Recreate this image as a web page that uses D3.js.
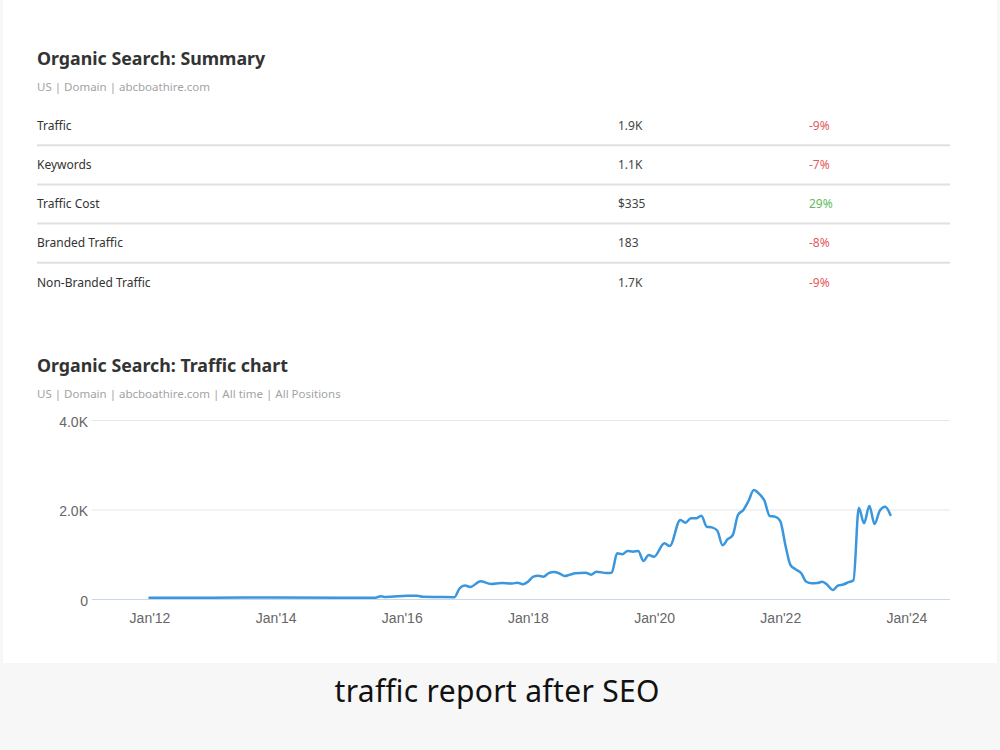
<!DOCTYPE html>
<html>
<head>
<meta charset="utf-8">
<script src="https://cdn.jsdelivr.net/npm/d3@7"></script>
<style>
  html, body { margin: 0; padding: 0; background: #f7f7f7; }
  svg { display: block; }
</style>
</head>
<body>
<div id="chart"></div>
<script>
// summary table
const metricNames   = ['Traffic', 'Keywords', 'Traffic Cost', 'Branded Traffic', 'Non-Branded Traffic'];
const metricValues  = ['1.9K', '1.1K', '$335', '183', '1.7K'];
const metricChanges = ['-9%', '-7%', '29%', '-8%', '-9%'];

// traffic series (month, visits)
const trafficMonths = [
  '2012-01','2013-01','2014-01','2015-01','2015-08','2015-09','2015-10','2015-11',
  '2016-02','2016-04','2016-05','2016-08','2016-11','2016-12',
  '2017-01','2017-02','2017-04','2017-06','2017-08','2017-10','2017-11','2017-12',
  '2018-01','2018-02','2018-03','2018-04','2018-05','2018-06','2018-07','2018-08','2018-09','2018-10','2018-12',
  '2019-01','2019-02','2019-04','2019-05','2019-06','2019-07','2019-08','2019-09','2019-10','2019-11','2019-12',
  '2020-01','2020-03','2020-04','2020-06','2020-07','2020-08','2020-09','2020-10','2020-11','2020-12',
  '2021-01','2021-02','2021-03','2021-04','2021-05','2021-06','2021-07','2021-08','2021-09','2021-10','2021-11','2021-12',
  '2022-01','2022-02','2022-03','2022-04','2022-05','2022-06','2022-07','2022-08','2022-09','2022-10','2022-11','2022-12',
  '2023-01','2023-02','2023-03','2023-04','2023-05','2023-06','2023-07','2023-08','2023-09','2023-10'
];
const trafficValues = [
  30, 30, 35, 30, 30, 60, 45, 50,
  75, 75, 50, 45, 40, 240,
  300, 270, 395, 335, 357, 345, 365, 328,
  387, 500, 520, 500, 580, 603, 573, 514, 544, 573, 588,
  544, 610, 580, 588, 1020, 1000, 1073, 1057, 1073, 850, 983,
  945, 1245, 1185, 1766, 1706, 1803, 1803, 1862, 1616, 1600,
  1530, 1200, 1330, 1430, 1877, 1990, 2190, 2436, 2350, 2200, 1855, 1840,
  1740, 1180, 760, 660, 580, 385, 350, 355, 385, 315, 200, 300,
  325, 375, 420, 2041, 1692, 2079, 1676, 1980, 2063, 1877
];

const yTicks = [0, 2000, 4000];
const yTickLabels = ['0', '2.0K', '4.0K'];
const xTickYears = [2012, 2014, 2016, 2018, 2020, 2022, 2024];

const W = 1000, H = 750;
const headFont = '"Noto Sans", "Open Sans", sans-serif';
const axisFont = '"Liberation Sans", Arial, sans-serif';

const svg = d3.select('#chart').append('svg').attr('width', W).attr('height', H);

// white card
svg.append('rect').attr('x', 3).attr('y', 0).attr('width', 994).attr('height', 663).attr('fill', '#fff');

// caption
svg.append('text').attr('x', 497).attr('y', 702).attr('text-anchor', 'middle')
  .style('font-family', '"Noto Sans", sans-serif')
  .style('font-size', '30px').attr('fill', '#111').attr('textLength', 325)
  .text('traffic report after SEO');

function heading(y, title, sub) {
  svg.append('text').attr('x', 37).attr('y', y)
    .style('font-family', headFont).style('font-size', '17.8px').style('font-weight', 700)
    .attr('fill', '#333').text(title);
  svg.append('text').attr('x', 37).attr('y', y + 26)
    .style('font-family', headFont).style('font-size', '11.5px')
    .attr('fill', '#a3a3a3').text(sub);
}

heading(65, 'Organic Search: Summary', 'US | Domain | abcboathire.com');
heading(372, 'Organic Search: Traffic chart', 'US | Domain | abcboathire.com | All time | All Positions');

// summary rows
const rowY = d3.scaleBand().domain(metricNames).range([106, 302]);
const rows = svg.append('g').attr('class', 'summary');
const row = rows.selectAll('g').data(metricNames).join('g')
  .attr('transform', d => `translate(0,${rowY(d) + rowY.bandwidth() / 2})`);

row.append('text').attr('x', 37).attr('dy', '0.35em')
  .style('font-family', headFont).style('font-size', '12px').attr('fill', '#333')
  .text(d => d);
row.append('text').attr('x', 618).attr('dy', '0.35em')
  .style('font-family', headFont).style('font-size', '12px').attr('fill', '#444')
  .text((d, i) => metricValues[i]);
row.append('text').attr('x', 809).attr('dy', '0.35em')
  .style('font-family', headFont).style('font-size', '12px')
  .attr('fill', (d, i) => metricChanges[i].startsWith('-') ? '#e5595b' : '#62bb5d')
  .text((d, i) => metricChanges[i]);
row.filter((d, i) => i < metricNames.length - 1)
  .append('line').attr('x1', 37).attr('x2', 950)
  .attr('y1', rowY.bandwidth() / 2).attr('y2', rowY.bandwidth() / 2)
  .attr('stroke', '#e0e0e0').attr('stroke-width', 2);

// traffic chart
const parseMonth = d3.timeParse('%Y-%m');
const series = trafficMonths.map((m, i) => ({ date: parseMonth(m), value: trafficValues[i] }));

const x = d3.scaleTime()
  .domain([new Date(2011, 1, 2), new Date(2024, 8, 10)])
  .range([92, 950]);
const y = d3.scaleLinear().domain([0, 4000]).range([599, 420]);

const plot = svg.append('g').attr('class', 'plot');

plot.append('g').selectAll('line').data(yTicks).join('line')
  .attr('x1', 92).attr('x2', 950)
  .attr('y1', d => y(d) + 0.5).attr('y2', d => y(d) + 0.5)
  .attr('stroke', d => d === 0 ? '#ccd6eb' : '#e6e6e6').attr('stroke-width', 1);

const yAxis = d3.axisLeft(y).tickValues(yTicks)
  .tickFormat((d, i) => yTickLabels[i]).tickSize(0).tickPadding(0);
const yAxisG = plot.append('g').attr('transform', 'translate(88,2)').call(yAxis);
yAxisG.select('.domain').remove();
yAxisG.selectAll('text').style('font-family', axisFont).style('font-size', '14px').attr('fill', '#666');

const fmtX = d3.timeFormat("%b'%y");
const xAxis = d3.axisBottom(x).tickValues(xTickYears.map(yr => new Date(yr, 0, 1)))
  .tickFormat(fmtX).tickSize(0).tickPadding(0);
const xAxisG = plot.append('g').attr('transform', 'translate(0,613)').call(xAxis);
xAxisG.select('.domain').remove();
xAxisG.selectAll('text').style('font-family', axisFont).style('font-size', '14px').attr('fill', '#666');

const line = d3.line().x(d => x(d.date)).y(d => y(d.value)).curve(d3.curveMonotoneX);
plot.append('path').datum(series)
  .attr('d', line).attr('fill', 'none')
  .attr('stroke', '#3a96dd').attr('stroke-width', 2.5)
  .attr('stroke-linejoin', 'round').attr('stroke-linecap', 'round');
</script>
</body>
</html>
